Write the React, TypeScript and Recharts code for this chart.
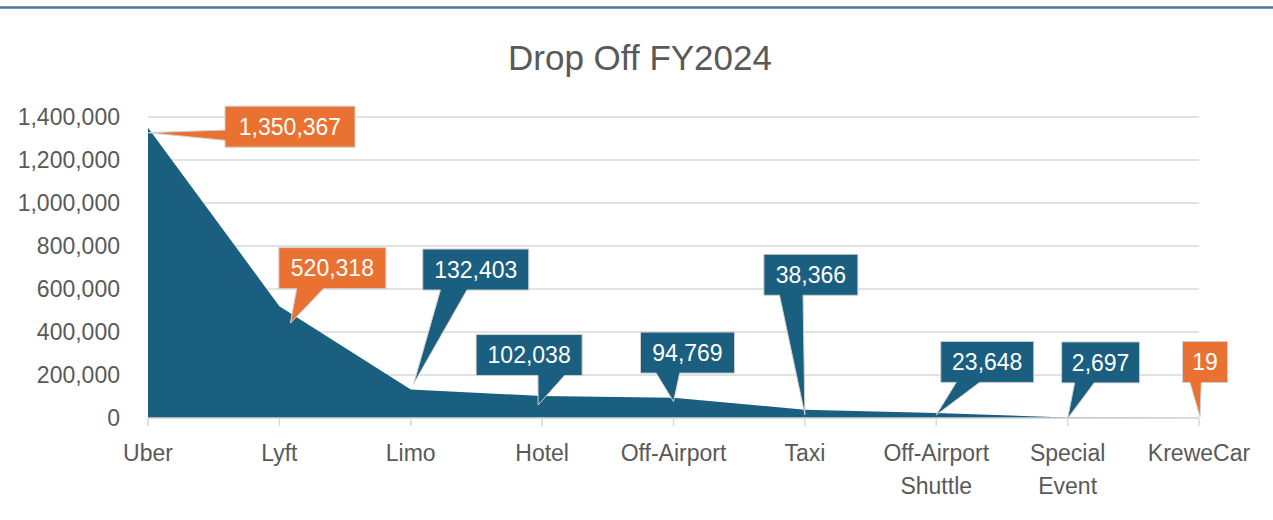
import React from "react";
import { AreaChart, Area, XAxis, YAxis, CartesianGrid, LabelList } from "recharts";

const categories = [
  "Uber",
  "Lyft",
  "Limo",
  "Hotel",
  "Off-Airport",
  "Taxi",
  "Off-Airport Shuttle",
  "Special Event",
  "KreweCar",
];
const dropOffs = [1350367, 520318, 132403, 102038, 94769, 38366, 23648, 2697, 19];
const yTicks = [0, 200000, 400000, 600000, 800000, 1000000, 1200000, 1400000];
const orangeCategories = ["Uber", "Lyft", "KreweCar"];

// callout layout: box centre offset from the point + box width, and tip offset
const boxOffsets = [
  [142, -1, 130],
  [53, -38, 107],
  [65, -120, 106],
  [-13, -41, 106],
  [14, -45, 94],
  [6, -135, 94],
  [51, -51, 93],
  [33, -55, 78],
  [6, -56, 45],
];
const tipOffsets = [
  [0, 5],
  [11, 17],
  [3, -6],
  [-4, 9],
  [0, 4],
  [0, 5],
  [0, 2],
  [0, 1],
  [1, -1],
];

const FONT = '"Liberation Sans", Arial, sans-serif';
const BLUE = "#1a5e80";
const ORANGE = "#e97132";
const TEXT = "#595959";
const GRID = "#d9d9d9";

const chartData = categories.map((name, i) => ({ name, value: dropOffs[i] }));

// wedge callout, same rule as the office "wedgeRectCallout" shape
function wedgePath(l: number, t: number, w: number, h: number, tx: number, ty: number) {
  const r = l + w;
  const b = t + h;
  const dx = tx - (l + w / 2);
  const dy = ty - (t + h / 2);
  const dq = (dx * h) / w;
  let edge = "";
  if (Math.abs(dy) > Math.abs(dq)) edge = dy > 0 ? "bottom" : "top";
  else edge = dx > 0 ? "right" : "left";
  const x1 = l + (w * (dx > 0 ? 7 : 2)) / 12;
  const x2 = l + (w * (dx > 0 ? 10 : 5)) / 12;
  const y1 = t + (h * (dy > 0 ? 7 : 2)) / 12;
  const y2 = t + (h * (dy > 0 ? 10 : 5)) / 12;
  let d = `M${l},${t}`;
  if (edge === "top") d += ` L${x1},${t} L${tx},${ty} L${x2},${t}`;
  d += ` L${r},${t}`;
  if (edge === "right") d += ` L${r},${y1} L${tx},${ty} L${r},${y2}`;
  d += ` L${r},${b}`;
  if (edge === "bottom") d += ` L${x2},${b} L${tx},${ty} L${x1},${b}`;
  d += ` L${l},${b}`;
  if (edge === "left") d += ` L${l},${y2} L${tx},${ty} L${l},${y1}`;
  return d + " Z";
}

const renderCallout = (props: any) => {
  const index = props.index;
  const px = props.x ?? props.viewBox?.x;
  const py = props.y ?? props.viewBox?.y;
  if (px == null || py == null || index == null) return null;
  const [ox, oy, w] = boxOffsets[index];
  const [tdx, tdy] = tipOffsets[index];
  const h = 41;
  const cx = px + ox;
  const cy = py + oy;
  const fill = orangeCategories.includes(categories[index]) ? ORANGE : BLUE;
  return (
    <g key={`callout-${index}`}>
      <path
        d={wedgePath(cx - w / 2, cy - h / 2, w, h, px + tdx, py + tdy)}
        fill={fill}
        stroke="#d0d0d0"
        strokeWidth={1}
      />
      <text
        x={cx}
        y={cy}
        dy="0.36em"
        textAnchor="middle"
        fill="#ffffff"
        fontSize={23}
        fontFamily={FONT}
      >
        {Number(props.value).toLocaleString("en-US")}
      </text>
    </g>
  );
};

const CategoryTick = (props: any) => {
  const { x, y, payload } = props;
  const lines = String(payload.value).split(" ");
  return (
    <text x={x} y={y} textAnchor="middle" fill={TEXT} fontSize={23} fontFamily={FONT}>
      {lines.map((line, i) => (
        <tspan key={i} x={x} dy={i === 0 ? 33 : 33}>
          {line}
        </tspan>
      ))}
    </text>
  );
};

export default function App() {
  return (
    <div style={{ position: "absolute", left: 0, top: 0, width: 1273, height: 520, background: "#fff" }}>
      <AreaChart
        width={1273}
        height={520}
        data={chartData}
        margin={{ top: 117, right: 74, bottom: 42, left: 0 }}
      >
        <CartesianGrid vertical={false} stroke={GRID} strokeWidth={1.5} />
        <XAxis
          dataKey="name"
          height={60}
          interval={0}
          stroke={GRID}
          strokeWidth={1.5}
          tickSize={8}
          tick={<CategoryTick />}
        />
        <YAxis
          width={148}
          domain={[0, 1400000]}
          ticks={yTicks}
          axisLine={false}
          tickLine={false}
          tickSize={0}
          tickMargin={28}
          tick={{ fill: TEXT, fontSize: 23, fontFamily: FONT }}
          tickFormatter={(v: number) => v.toLocaleString("en-US")}
        />
        <Area
          type="linear"
          dataKey="value"
          stroke="none"
          fill={BLUE}
          fillOpacity={1}
          isAnimationActive={false}
        >
          <LabelList dataKey="value" content={renderCallout} />
        </Area>
      </AreaChart>
      <svg
        width={1273}
        height={520}
        style={{ position: "absolute", left: 0, top: 0, pointerEvents: "none" }}
      >
        <line x1={0} x2={1273} y1={7.5} y2={7.5} stroke="#46789c" strokeWidth={2.5} />
        <text x={640} y={70} textAnchor="middle" fill={TEXT} fontSize={35} fontFamily={FONT}>
          Drop Off FY2024
        </text>
      </svg>
    </div>
  );
}
